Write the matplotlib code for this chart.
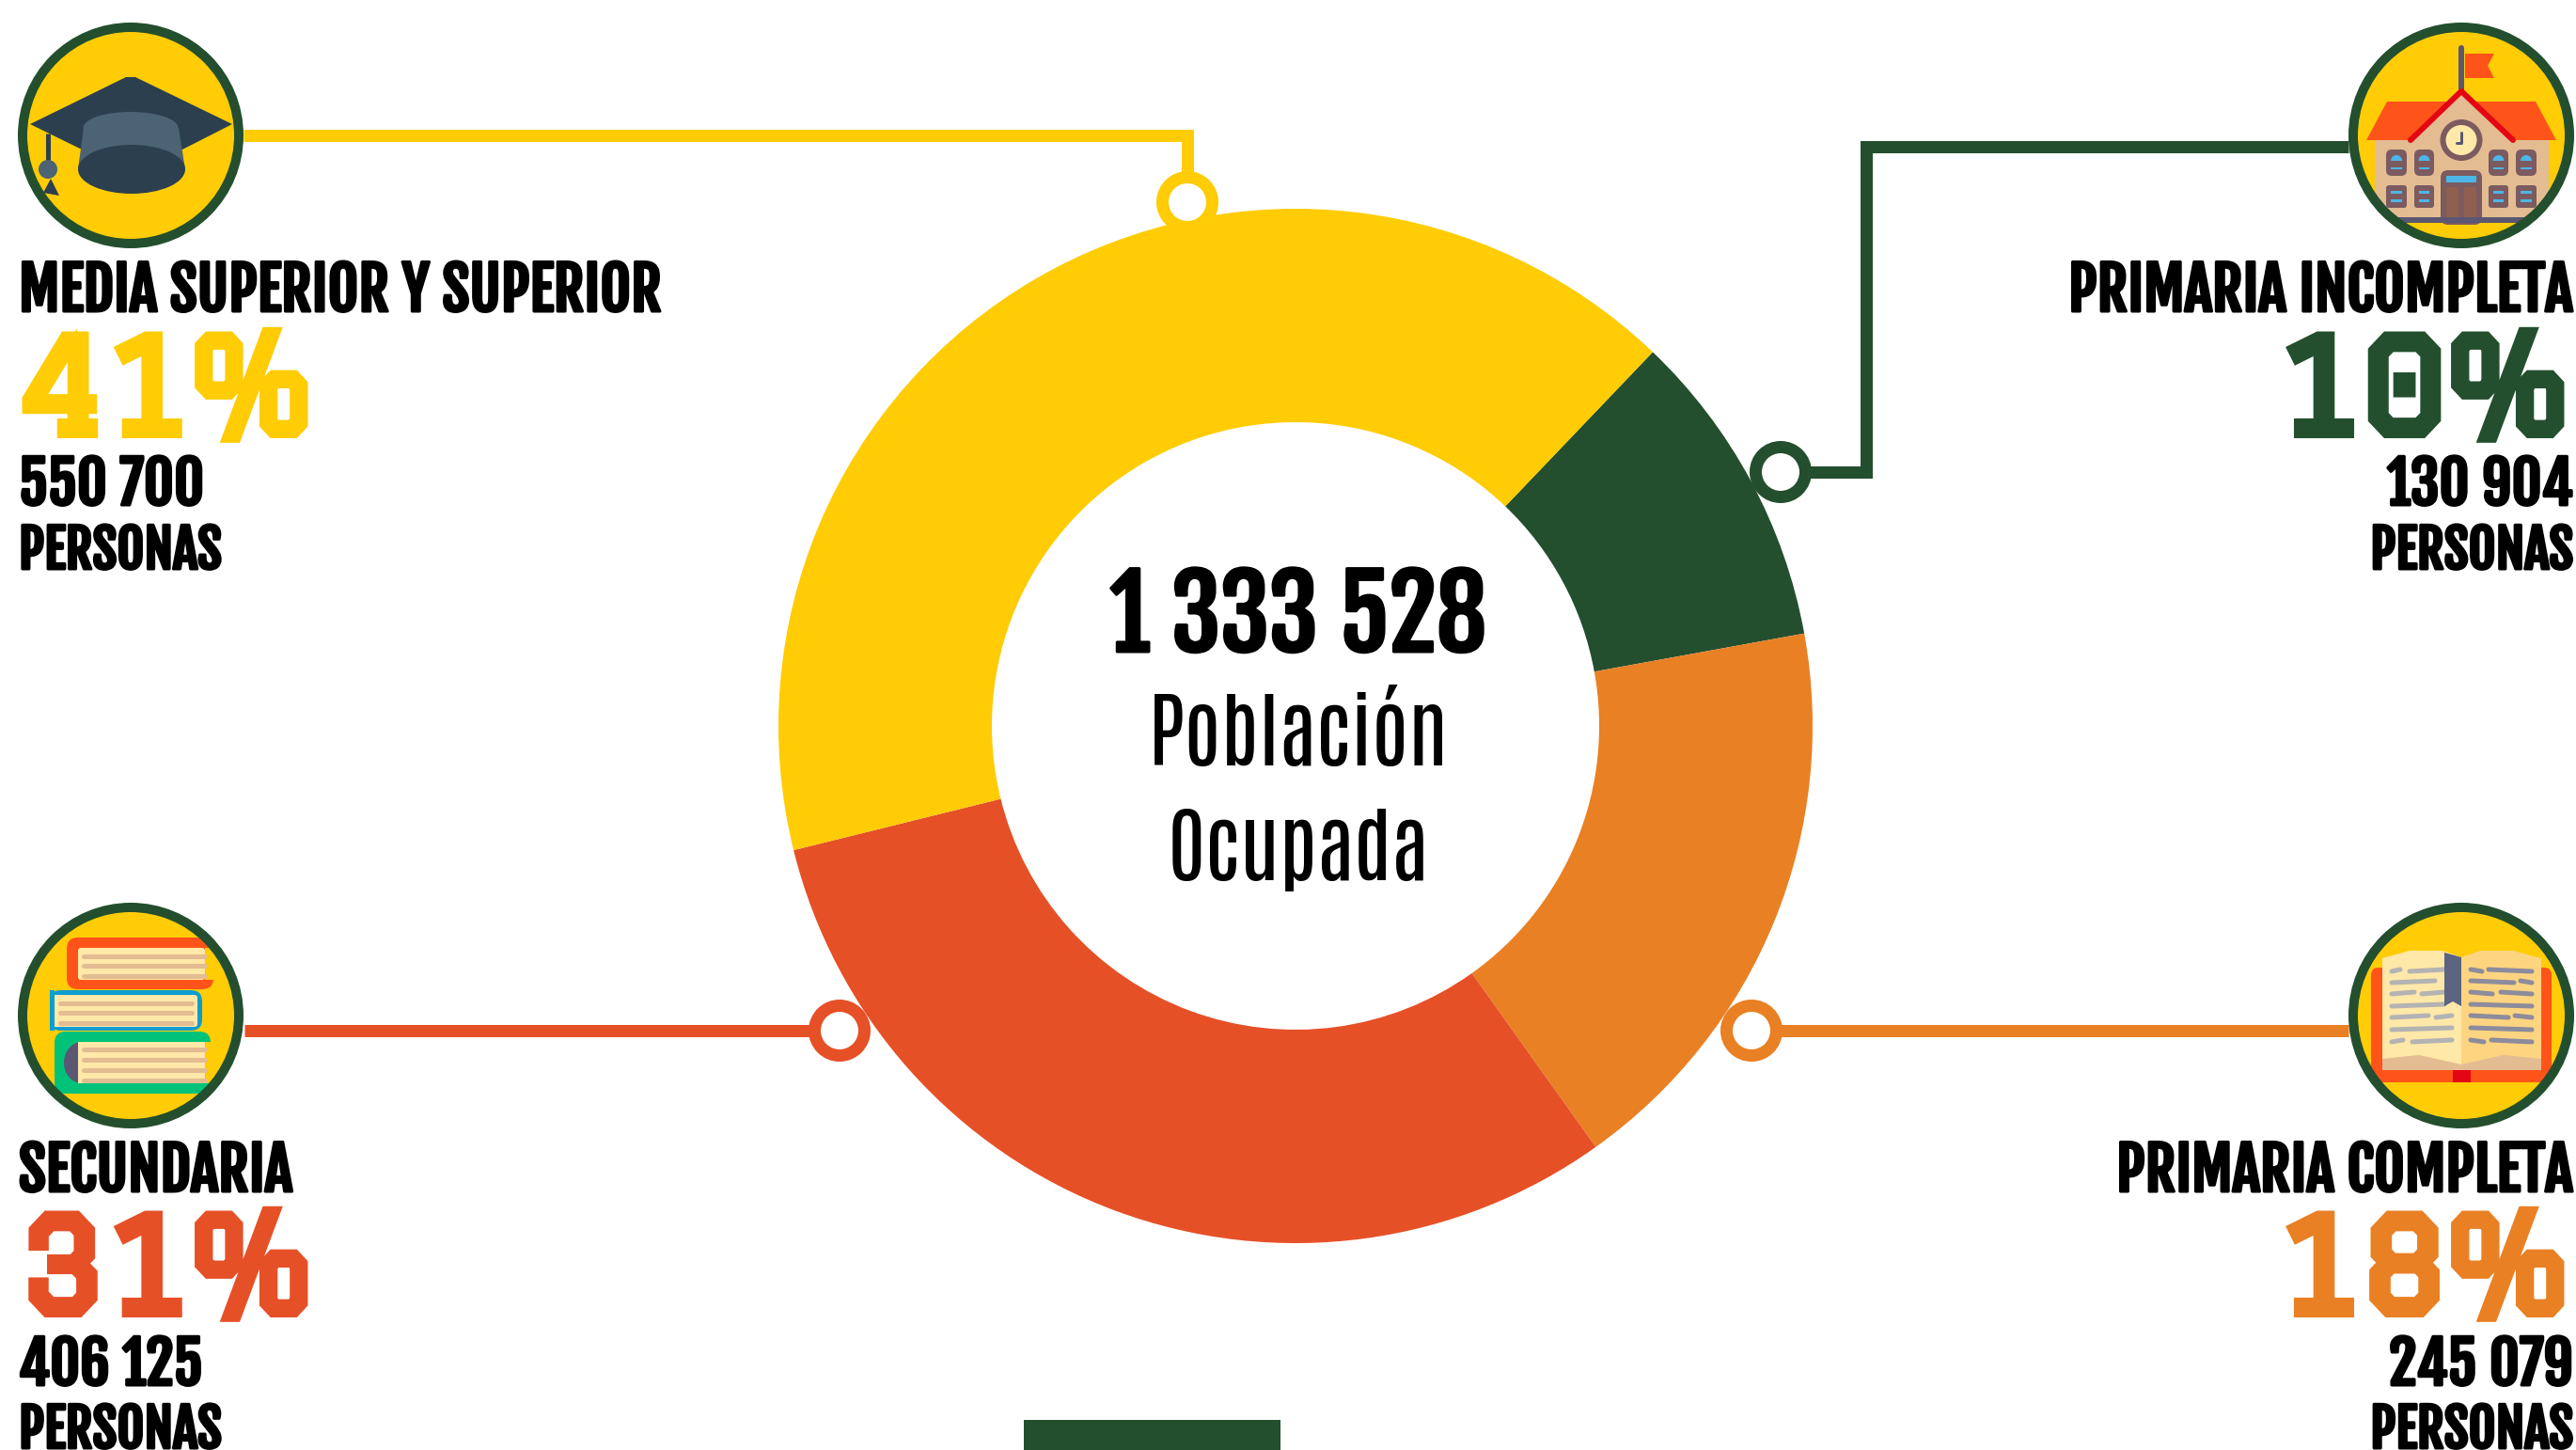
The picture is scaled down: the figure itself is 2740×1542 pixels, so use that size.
import matplotlib
matplotlib.use("Agg")
import matplotlib.patheffects as pe
import matplotlib.pyplot as plt
from matplotlib.patches import Circle, Ellipse, FancyBboxPatch, Polygon, Rectangle

W, H = 2740, 1542

YELLOW = "#FFCC05"
GREEN = "#244F2E"
RED = "#E65027"
ORANGE = "#E98024"
ROOF = "#FF5419"
CREAM = "#FFE8A8"
TAN = "#E3BC92"
SLATE = "#5B5671"
WOOD = "#7B5B5F"
SKY = "#4DB6E8"

# data, clockwise from the top right of the ring
levels = ["PRIMARIA INCOMPLETA", "PRIMARIA COMPLETA", "SECUNDARIA", "MEDIA SUPERIOR Y SUPERIOR"]
shares = [10, 18, 31, 41]
people = ["130 904", "245 079", "406 125", "550 700"]
colors = [GREEN, ORANGE, RED, YELLOW]
total = "1 333 528"
center_lines = ["Población", "Ocupada"]

HEAVY = ["Fjalla One", "Barlow Condensed", "Liberation Sans"]
LIGHT = ["Antonio", "Archivo Narrow", "Liberation Sans"]
BLOCK = ["Graduate", "Liberation Mono"]


def px(n):
    # figure is at dpi 100, sizes below are in image pixels
    return n * 0.72


fig = plt.figure(figsize=(W / 100, H / 100), dpi=100, facecolor="white")

# ring
R_OUT, R_IN = 550, 323
CX, CY = 1378, 772
ax_pie = fig.add_axes([(CX - R_OUT) / W, 1 - (CY + R_OUT) / H, 2 * R_OUT / W, 2 * R_OUT / H])
ax_pie.pie(shares, colors=colors, startangle=46.3, counterclock=False, radius=1,
           wedgeprops={"width": (R_OUT - R_IN) / R_OUT, "linewidth": 0})
ax_pie.set_xlim(-1, 1)
ax_pie.set_ylim(-1, 1)

# everything else in image pixels, y down
ax = fig.add_axes([0, 0, 1, 1])
ax.set_xlim(0, W)
ax.set_ylim(H, 0)
ax.axis("off")
ax.patch.set_alpha(0)


def connector(points, color):
    xs, ys = zip(*points)
    ax.plot(xs, ys, color=color, lw=px(13), solid_joinstyle="miter", solid_capstyle="butt", zorder=2)
    ax.add_patch(Circle(points[-1], 26.5, facecolor="white", edgecolor=color, lw=px(13), zorder=3))


connector([(259, 144), (1263, 144), (1263, 215)], YELLOW)
connector([(2498, 156), (1985, 156), (1985, 502), (1894, 502)], GREEN)
connector([(260, 1096), (893, 1096)], RED)
connector([(2498, 1096), (1863, 1096)], ORANGE)


class Icon:
    """Badge with drawing clipped to its disc, coordinates relative to the centre."""

    def __init__(self, cx, cy):
        self.cx, self.cy = cx, cy
        self.disc = Circle((cx, cy), 115, facecolor=YELLOW, edgecolor="none", zorder=4)
        ax.add_patch(self.disc)

    def add(self, patch):
        patch.set_zorder(5)
        ax.add_patch(patch)
        patch.set_clip_path(self.disc)

    def poly(self, pts, color):
        self.add(Polygon([(self.cx + x, self.cy + y) for x, y in pts], closed=True, facecolor=color, edgecolor="none"))

    def rect(self, x0, y0, x1, y1, color):
        self.add(Rectangle((self.cx + x0, self.cy + y0), x1 - x0, y1 - y0, facecolor=color, edgecolor="none"))

    def rounded(self, x0, y0, x1, y1, color, rad=6):
        self.add(FancyBboxPatch((self.cx + x0 + rad, self.cy + y0 + rad), x1 - x0 - 2 * rad, y1 - y0 - 2 * rad,
                                boxstyle=f"round,pad={rad},rounding_size={rad}", facecolor=color, edgecolor="none"))

    def ellipse(self, x, y, w, h, color):
        self.add(Ellipse((self.cx + x, self.cy + y), w, h, facecolor=color, edgecolor="none"))

    def line(self, xs, ys, color, lw, cap="round"):
        ln, = ax.plot([self.cx + x for x in xs], [self.cy + y for y in ys], color=color, lw=px(lw),
                      solid_capstyle=cap, zorder=5)
        ln.set_clip_path(self.disc)

    def finish(self):
        ax.add_patch(Circle((self.cx, self.cy), 115, facecolor="none", edgecolor=GREEN, lw=px(10), zorder=6))


def draw_cap(ic):
    dark, light = "#2C3F4F", "#4C6373"
    ic.poly([(-107, -12), (-5, -62), (5, -62), (108, -12), (55, 15), (0, 30), (-54, 14)], dark)
    ic.line([-88, -88], [-2, 36], dark, 5, "butt")
    ic.poly([(-93, 61), (-85, 46), (-76, 64)], dark)
    ic.ellipse(-88, 36, 20, 20, light)
    ic.poly([(-50, -8), (51, -8), (58, 36), (-56, 36)], light)
    ic.ellipse(0, -8, 101, 34, light)
    ic.ellipse(1, 36, 114, 52, dark)
    ic.poly([(-56, 36), (-30, 17), (0, 10), (30, 17), (57, 36)], dark)


def draw_school(ic):
    ic.rect(-92, 5, 93, 89, TAN)
    ic.line([0, 0], [-93, -49], SLATE, 6)
    ic.poly([(4, -87), (35, -87), (28, -74), (35, -61), (4, -61)], ROOF)
    ic.poly([(-79, -36), (79, -36), (101, 5), (-101, 5)], ROOF)
    ic.poly([(-54, 5), (0, -47), (55, 5)], TAN)
    ic.line([-54, 0, 55], [5, -47, 5], "#E30613", 6)
    ic.ellipse(0, 5, 45, 44, WOOD)
    ic.ellipse(0, 5, 33, 32, CREAM)
    ic.line([-5, 0, 0], [8, 8, -3], SLATE, 3)
    for x0, x1 in [(-80, -58), (-50, -29), (29, 50), (58, 80)]:
        ic.rounded(x0, 15, x1, 43, WOOD, 6)
        ic.ellipse((x0 + x1) / 2, 27, 12, 12, SKY)
        ic.rect(x0 + 4, 27, x1 - 4, 34, WOOD)
        ic.rect(x0 + 5, 34, x1 - 5, 36, SKY)
        ic.rounded(x0, 53, x1, 77, WOOD, 3)
        ic.rect(x0 + 5, 59, x1 - 5, 62, SKY)
        ic.rect(x0 + 5, 68, x1 - 5, 71, SKY)
    ic.rounded(-22, 37, 22, 95, WOOD, 8)
    ic.rect(-16, 43, 16, 50, SKY)
    ic.rect(-16, 55, -3, 89, "#8F5F50")
    ic.rect(3, 55, 16, 89, "#8F5F50")
    ic.line([-75, 75], [90, 90], SLATE, 6, "butt")


def draw_stacked_book(ic, x0, y0, x1, y1, px0, px1, py0, py1, stripes, color, open_right=True):
    ic.rounded(x0, y0, x1, y1, color, 12)
    # pages, then the gap at the open side of the cover
    if open_right:
        ic.rect(px1, py0, x1 + 1, py1, YELLOW)
    else:
        ic.rect(x0 - 1, py0, px0, py1, YELLOW)
    ic.rounded(px0, py0, px1, py1, CREAM, 3)
    for y in stripes:
        ic.line([px0 + 6, px1 - (0 if open_right else 6)], [y, y], TAN, 5)


def draw_books(ic):
    draw_stacked_book(ic, -68, -83, 88, -28, -56, 79, -72, -38, [-63, -53, -42], ROOF)
    draw_stacked_book(ic, -86, -27, 76, 16, -81, 71, -22, 12, [-13, -3, 8], "#0C9DD0", open_right=False)
    ic.rect(-86, -27, -81, 16, "#0C9DD0")
    ic.rect(-81, -22, -78, 12, CREAM)
    draw_stacked_book(ic, -81, 17, 85, 83, -56, 79, 28, 72, [36, 47, 58, 69], "#00C279")
    ic.ellipse(-52, 50, 38, 44, SLATE)
    ic.rect(-56, 28, 79, 72, CREAM)
    for y in [36, 47, 58, 69]:
        ic.line([-50, 79], [y, y], TAN, 5)


def draw_open_book(ic):
    ic.rounded(-96, -51, 96, 71, ROOF, 8)
    ic.rect(-9, 58, 10, 71, "#E30613")
    ic.poly([(-84, -61), (-55, -69), (-20, -69), (0, -62), (0, 58), (-84, 58)], CREAM)
    ic.poly([(0, -62), (20, -69), (55, -69), (85, -61), (85, 58), (0, 58)], "#FDD480")
    ic.poly([(-84, 46), (-45, 42), (0, 52), (45, 42), (85, 46), (85, 58), (-84, 58)], TAN)
    rows = [-48, -36, -24, -11, 1, 14, 27]
    left = [[(-74, -65), (-55, -18)], [(-74, -28)], [(-74, -50), (-42, -18)], [(-74, -18)],
            [(-74, -35), (-27, -10)], [(-74, -10)], [(-74, -62), (-52, -10)]]
    right = [[(10, 22), (29, 75)], [(10, 56), (63, 75)], [(10, 33), (42, 75)], [(10, 75)],
             [(10, 50), (57, 75)], [(10, 75)], [(10, 24), (32, 75)]]
    for y, segs in zip(rows, left):
        for a, b in segs:
            ic.line([a, b], [y + 1, y - 1], "#B3B3B3", 5)
    for y, segs in zip(rows, right):
        for a, b in segs:
            ic.line([a, b], [y - 1, y + 1], "#8C8C9C", 5)
    ic.poly([(-18, -67), (0, -62), (0, -10), (-9, -15), (-18, -10)], "#5B6480")


for (cx, cy), draw in zip([(139, 144), (2618, 144), (139, 1080), (2618, 1080)],
                          [draw_cap, draw_school, draw_books, draw_open_book]):
    ic = Icon(cx, cy)
    draw(ic)
    ic.finish()

# thickens the condensed font a little
BOLDER = [pe.withStroke(linewidth=px(3), foreground="black")]


def block_label(i, x, ha, y_title, y_pct, y_num, y_word):
    ax.text(x, y_title, levels[i], family=HEAVY, fontsize=px(63), ha=ha, color="black", path_effects=BOLDER)
    stroke = [pe.withStroke(linewidth=px(10), foreground=colors[i], joinstyle="miter")]
    ax.text(x + (3 if ha == "left" else -5), y_pct, f"{shares[i]}%", family=BLOCK, fontsize=px(138), ha=ha,
            color=colors[i], path_effects=stroke)
    ax.text(x, y_num, people[i], family=HEAVY, fontsize=px(62), ha=ha, color="black", path_effects=BOLDER)
    ax.text(x, y_word, "PERSONAS", family=HEAVY, fontsize=px(56), ha=ha, color="black", path_effects=BOLDER)


block_label(3, 20, "left", 331, 461, 537, 605)
block_label(0, 2737, "right", 331, 461, 537, 605)
block_label(2, 20, "left", 1267, 1396, 1473, 1540)
block_label(1, 2737, "right", 1267, 1396, 1473, 1540)

# centre of the ring
ax.text(1381, 693, total, family=HEAVY, fontsize=px(106), ha="center", color="black", path_effects=BOLDER)
ax.text(1381, 814, center_lines[0], family=LIGHT, fontsize=px(88), ha="center", color="black")
ax.text(1381, 936, center_lines[1], family=LIGHT, fontsize=px(88), ha="center", color="black")

# block cut by the bottom edge
ax.add_patch(Rectangle((1089, 1510), 273, 32, facecolor=GREEN, edgecolor="none"))

fig.savefig("out.png", dpi=100, facecolor="white")
